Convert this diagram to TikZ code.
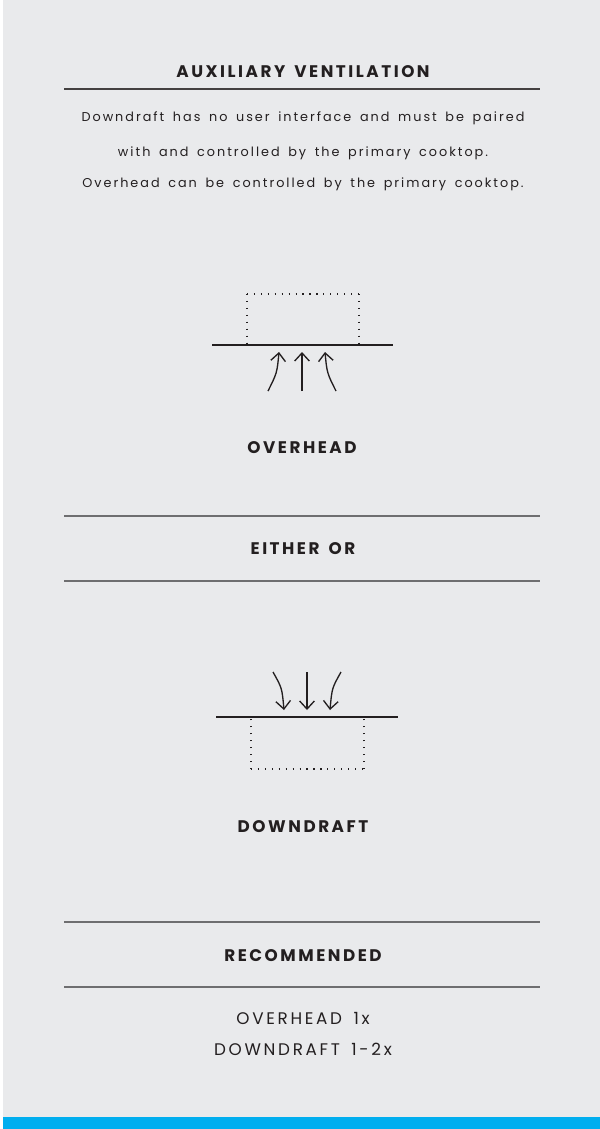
\documentclass[tikz,border=0pt]{standalone}
\usepackage{fontspec}
\setmainfont{Poppins}
\newfontfamily\titlefont[LetterSpace=15,WordSpace=1.5]{Poppins}
\newfontfamily\bodyfont[LetterSpace=15.5,WordSpace=1.6]{Poppins}
\newfontfamily\recfont[LetterSpace=16,WordSpace=1.6]{Poppins}
\usetikzlibrary{arrows.meta}
\definecolor{bg}{HTML}{E9EAEC}
\definecolor{bar}{HTML}{00AEEF}
\definecolor{ink}{HTML}{231F20}
\definecolor{rule}{HTML}{6E6E70}
\begin{document}
\begin{tikzpicture}[x=0.75pt,y=-0.75pt,
  hdr/.style={font=\titlefont\bfseries\fontsize{12.6}{14}\selectfont, text=ink, inner sep=0},
  body/.style={font=\bodyfont\fontsize{9.6}{11}\selectfont, text=ink, inner sep=0},
  rec/.style={font=\recfont\fontsize{12.6}{14}\selectfont, text=ink, inner sep=0},
  sep/.style={draw=rule, line width=0.9pt},
  dots/.style={draw=ink, line width=0.9pt, dash pattern=on 0.9pt off 4.3pt},
  flow/.style={draw=ink, line width=1pt, -{Straight Barb[length=6pt,width=11pt]}},
  base/.style={draw=ink, line width=1.1pt}]
\useasboundingbox (0,0) rectangle (600,1129);
\fill[white] (0,0) rectangle (600,1129);
\fill[bg] (3,0) rectangle (600,1117);
\fill[bar] (3,1117) rectangle (600,1129);

% title
\node[hdr] (title) at (303,72) {AUXILIARY VENTILATION};
\coordinate (t1) at (64,89); \coordinate (t2) at (540,89);
\draw[draw=ink!85, line width=0.9pt] (t1) -- (t2);
\node[body] (b1) at (303,118) {Downdraft has no user interface and must be paired};
\node[body] (b2) at (303,153) {with and controlled by the primary cooktop.};
\node[body] (b3) at (303,184) {Overhead can be controlled by the primary cooktop.};

% overhead diagram
\coordinate (o1) at (212,345); \coordinate (o2) at (393,345);
\draw[base] (o1) -- (o2);
\coordinate (ob1) at (247,343); \coordinate (ob2) at (247,294);
\coordinate (ob3) at (359,294); \coordinate (ob4) at (359,343);
\draw[dots] (ob2) -- (ob1);
\draw[dots] (ob2) -- (ob3);
\draw[dots] (ob3) -- (ob4);
\coordinate (oa1) at (268,391); \coordinate (oa1e) at (279,352);
\coordinate (oa2) at (302,391); \coordinate (oa2e) at (302,352);
\coordinate (oa3) at (336,391); \coordinate (oa3e) at (325,352);
\draw[flow] (oa1) .. controls (277,373) .. (oa1e);
\draw[flow] (oa2) -- (oa2e);
\draw[flow] (oa3) .. controls (327,373) .. (oa3e);
\node[hdr] (ovh) at (302,448) {OVERHEAD};

% either or
\coordinate (e1) at (64,516); \coordinate (e2) at (540,516);
\draw[sep] (e1) -- (e2);
\node[hdr] (either) at (303,549) {EITHER OR};
\coordinate (e3) at (64,581); \coordinate (e4) at (540,581);
\draw[sep] (e3) -- (e4);

% downdraft diagram
\coordinate (d1) at (216,717); \coordinate (d2) at (398,717);
\draw[base] (d1) -- (d2);
\coordinate (db1) at (251,719); \coordinate (db2) at (251,769);
\coordinate (db3) at (364,769); \coordinate (db4) at (364,719);
\draw[dots] (db2) -- (db1);
\draw[dots] (db2) -- (db3);
\draw[dots] (db3) -- (db4);
\coordinate (da1) at (273,672); \coordinate (da1e) at (284,710);
\coordinate (da2) at (307,672); \coordinate (da2e) at (307,710);
\coordinate (da3) at (341,672); \coordinate (da3e) at (330,710);
\draw[flow] (da1) .. controls (282,688) .. (da1e);
\draw[flow] (da2) -- (da2e);
\draw[flow] (da3) .. controls (332,688) .. (da3e);
\node[hdr] (dwn) at (303,827) {DOWNDRAFT};

% recommended
\coordinate (r1) at (64,922); \coordinate (r2) at (540,922);
\draw[sep] (r1) -- (r2);
\node[hdr] (recd) at (303,956) {RECOMMENDED};
\coordinate (r3) at (64,987); \coordinate (r4) at (540,987);
\draw[sep] (r3) -- (r4);
\node[rec] (rec1) at (303,1018) {OVERHEAD 1x};
\node[rec] (rec2) at (303,1049) {DOWNDRAFT 1-2x};
\end{tikzpicture}
\end{document}
